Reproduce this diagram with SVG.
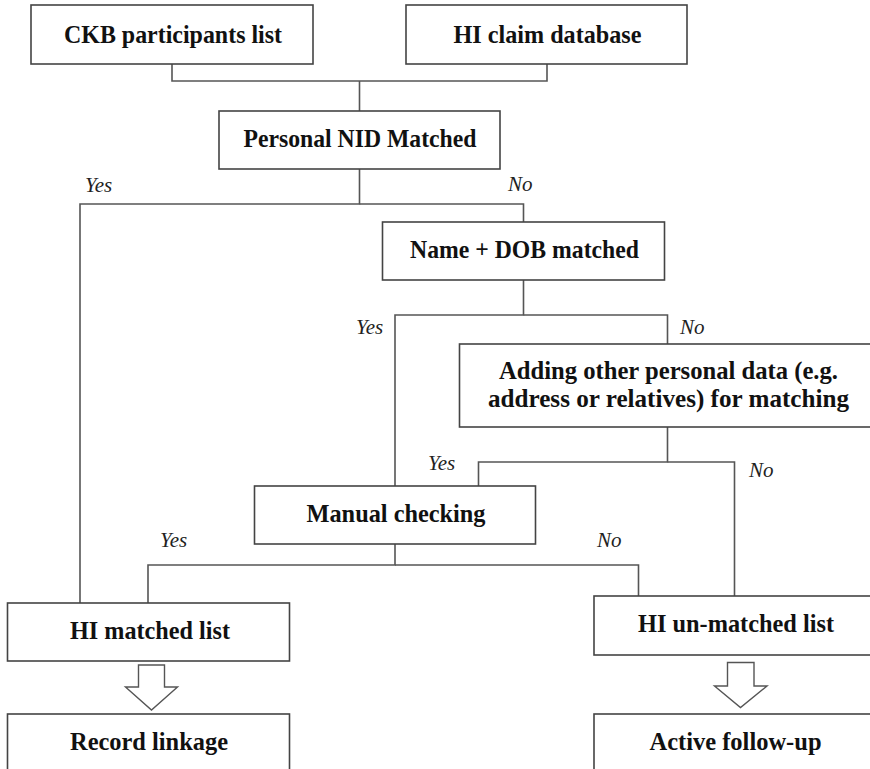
<svg xmlns="http://www.w3.org/2000/svg" width="870" height="769" viewBox="0 0 870 769">
  <style>
    .box { fill: #ffffff; stroke: #444444; stroke-width: 1.6; }
    .wire { fill: none; stroke: #555555; stroke-width: 1.6; }
    .big { fill: #ffffff; stroke: #555555; stroke-width: 1.4; stroke-linejoin: miter; }
    .lbl { font-family: "Liberation Serif", "DejaVu Serif", serif; font-weight: bold; font-size: 25px; fill: #111111; text-anchor: middle; }
    .yn { font-family: "Liberation Serif", "DejaVu Serif", serif; font-style: italic; font-size: 21px; fill: #222222; }
  </style>
  <rect width="870" height="769" fill="#ffffff"/>

  <!-- connectors -->
  <g id="connectors">
    <path class="wire" d="M172,64 V81 H547 V64"/>
    <path class="wire" d="M359.5,81 V111"/>
    <path class="wire" d="M359.5,169 V204 H80 V603"/>
    <path class="wire" d="M359.5,204 H523.5 V222"/>
    <path class="wire" d="M523.5,280 V315 H395 V486"/>
    <path class="wire" d="M523.5,315 H667.5 V344"/>
    <path class="wire" d="M667.5,427 V462 H478.5 V486"/>
    <path class="wire" d="M667.5,462 H734.5 V596"/>
    <path class="wire" d="M395,544 V565 H148 V603"/>
    <path class="wire" d="M395,565 H638.5 V596"/>
    <!-- hollow block arrows -->
    <path class="big" d="M138.5,665 H164.5 V687 H177.5 L151.5,710 L125.5,687 H138.5 Z"/>
    <path class="big" d="M727.5,662.5 H754 V686 H767 L740.5,707.5 L714.5,686 H727.5 Z"/>
  </g>

  <!-- branch labels -->
  <g id="branch-labels">
    <text class="yn" x="85" y="192">Yes</text>
    <text class="yn" x="508" y="191">No</text>
    <text class="yn" x="356" y="334">Yes</text>
    <text class="yn" x="680" y="334">No</text>
    <text class="yn" x="428" y="470">Yes</text>
    <text class="yn" x="749" y="477">No</text>
    <text class="yn" x="160" y="547">Yes</text>
    <text class="yn" x="597" y="547">No</text>
  </g>

  <g id="ckb-list">
    <rect class="box" x="31" y="5" width="282" height="59"/>
    <text class="lbl" x="173" y="43" textLength="218" lengthAdjust="spacingAndGlyphs">CKB participants list</text>
  </g>
  <g id="hi-claim-db">
    <rect class="box" x="406" y="5" width="281" height="59"/>
    <text class="lbl" x="547.5" y="43" textLength="188" lengthAdjust="spacingAndGlyphs">HI claim database</text>
  </g>
  <g id="nid-matched">
    <rect class="box" x="219" y="111" width="281" height="58"/>
    <text class="lbl" x="360" y="146.5" textLength="233" lengthAdjust="spacingAndGlyphs">Personal NID Matched</text>
  </g>
  <g id="name-dob-matched">
    <rect class="box" x="382.5" y="222" width="282" height="58"/>
    <text class="lbl" x="524.5" y="257.5" textLength="229" lengthAdjust="spacingAndGlyphs">Name + DOB matched</text>
  </g>
  <g id="other-data">
    <rect class="box" x="459.5" y="344" width="420" height="83"/>
    <text class="lbl" x="668.5" y="378.5" textLength="339" lengthAdjust="spacingAndGlyphs">Adding other personal data (e.g.</text>
    <text class="lbl" x="668.5" y="407" textLength="361" lengthAdjust="spacingAndGlyphs">address or relatives) for matching</text>
  </g>
  <g id="manual-checking">
    <rect class="box" x="254.5" y="486" width="281" height="58"/>
    <text class="lbl" x="396" y="522" textLength="179" lengthAdjust="spacingAndGlyphs">Manual checking</text>
  </g>
  <g id="hi-matched">
    <rect class="box" x="7.5" y="603" width="282" height="58"/>
    <text class="lbl" x="150" y="639" textLength="160" lengthAdjust="spacingAndGlyphs">HI matched list</text>
  </g>
  <g id="hi-unmatched">
    <rect class="box" x="594" y="596" width="290" height="59"/>
    <text class="lbl" x="736" y="632" textLength="196" lengthAdjust="spacingAndGlyphs">HI un-matched list</text>
  </g>
  <g id="record-linkage">
    <rect class="box" x="7.5" y="714" width="282" height="70"/>
    <text class="lbl" x="149" y="750" textLength="158" lengthAdjust="spacingAndGlyphs">Record linkage</text>
  </g>
  <g id="active-follow-up">
    <rect class="box" x="594" y="714" width="290" height="70"/>
    <text class="lbl" x="735.5" y="750" textLength="172" lengthAdjust="spacingAndGlyphs">Active follow-up</text>
  </g>
</svg>
